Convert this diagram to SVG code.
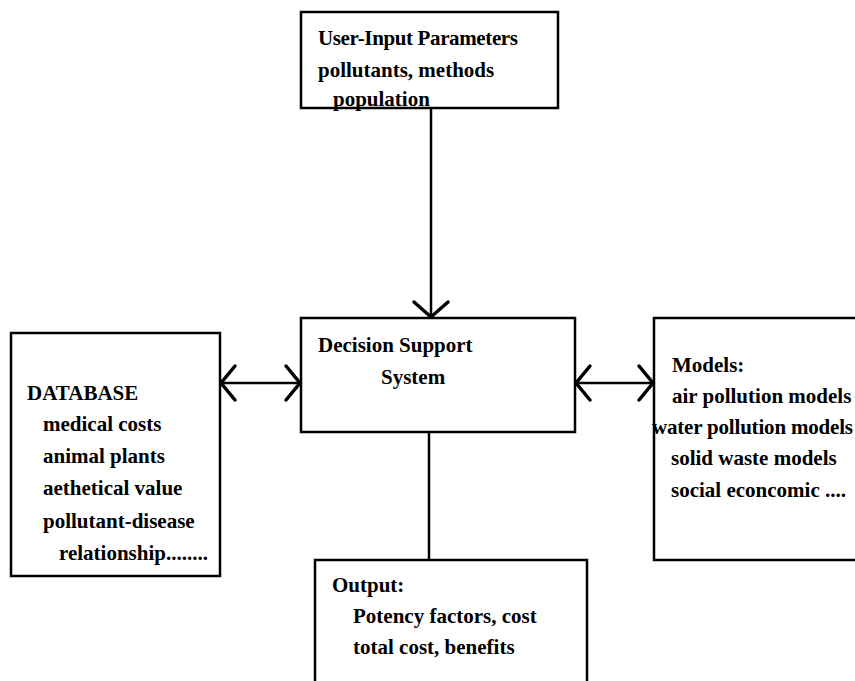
<svg xmlns="http://www.w3.org/2000/svg" width="855" height="681" viewBox="0 0 855 681">
<style>
.box{fill:none;stroke:#000;stroke-width:2.5}
.ln{fill:none;stroke:#000;stroke-width:2.5}
.ah{fill:none;stroke:#000;stroke-width:3.5;stroke-linecap:round;stroke-linejoin:miter}
text{font-family:"Liberation Serif","Times New Roman",serif;font-size:21px;font-weight:bold;fill:#000}
</style>
<rect width="855" height="681" fill="#fff"/>
<g id="connectors">
<line class="ln" x1="431" y1="108" x2="431" y2="317"/>
<polyline class="ah" points="414,302 431,317 448,302"/>
<line class="ln" x1="220" y1="383" x2="301" y2="383"/>
<polyline class="ah" points="235,366 221,383 235,400"/>
<polyline class="ah" points="286,366 300,383 286,400"/>
<line class="ln" x1="575" y1="383" x2="654" y2="383"/>
<polyline class="ah" points="590,366 576,383 590,400"/>
<polyline class="ah" points="639,366 653,383 639,400"/>
<line class="ln" x1="429" y1="432" x2="429" y2="560"/>
</g>
<g id="user-input">
<rect class="box" x="301" y="12" width="257" height="96"/>
<text x="318" y="45" textLength="200">User-Input Parameters</text>
<text x="318" y="77">pollutants, methods</text>
<text x="333" y="106">population</text>
</g>
<g id="dss">
<rect class="box" x="301" y="318" width="274" height="114"/>
<text x="318" y="352">Decision Support</text>
<text x="381" y="384">System</text>
</g>
<g id="database">
<rect class="box" x="11" y="333" width="209" height="243"/>
<text x="27" y="400">DATABASE</text>
<text x="43" y="431">medical costs</text>
<text x="43" y="463">animal plants</text>
<text x="43" y="495">aethetical value</text>
<text x="43" y="528">pollutant-disease</text>
<text x="59" y="560">relationship........</text>
</g>
<g id="models">
<rect class="box" x="654" y="318" width="220" height="242"/>
<text x="672" y="372">Models:</text>
<text x="672" y="403">air pollution models</text>
<text x="652" y="434" textLength="201">water pollution models</text>
<text x="671" y="465">solid waste models</text>
<text x="671" y="497">social econcomic ....</text>
</g>
<g id="output">
<rect class="box" x="315" y="560" width="272" height="140"/>
<text x="332" y="592">Output:</text>
<text x="353" y="623">Potency factors, cost</text>
<text x="353" y="654">total cost, benefits</text>
</g>
</svg>
